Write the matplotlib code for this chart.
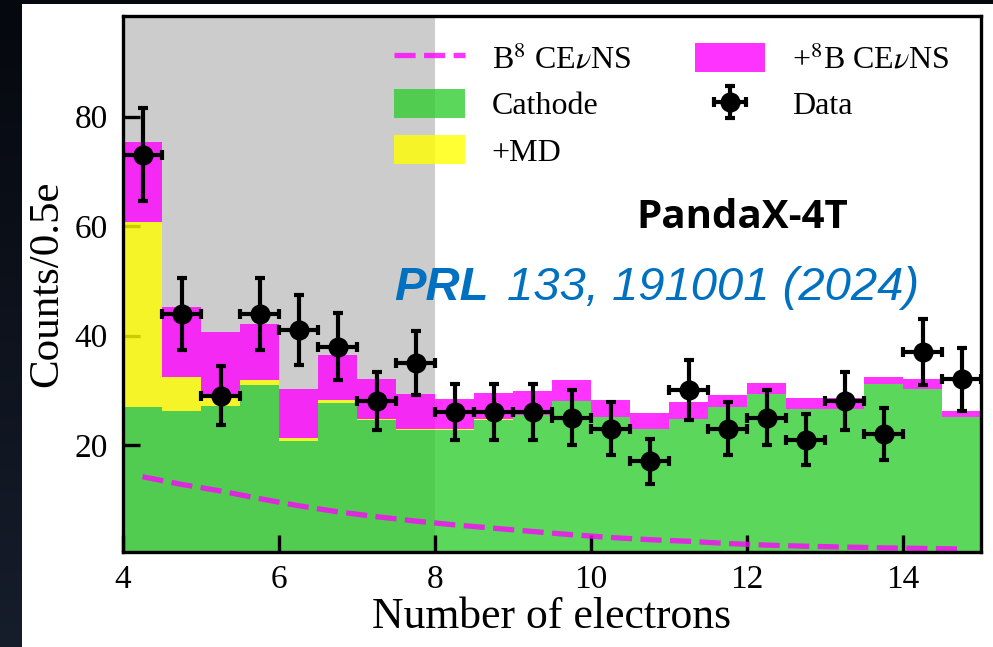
import numpy as np
import matplotlib
matplotlib.use("Agg")
import matplotlib.pyplot as plt
from matplotlib.patches import Patch, Rectangle
from matplotlib.lines import Line2D

# ---- data -------------------------------------------------------------
bin_edges = np.arange(4.0, 15.5, 0.5)
bin_centers = 0.5 * (bin_edges[:-1] + bin_edges[1:])

cathode = [27.0, 26.3, 27.2, 30.9, 20.8, 27.7, 24.5, 22.7, 22.7, 24.5, 25.4,
           28.1, 25.1, 23.0, 24.8, 26.9, 29.4, 26.6, 26.6, 31.2, 30.3, 25.1]
md = [33.7, 6.2, 1.9, 0.9, 0.5, 0.5, 0.3, 0.3, 0.3, 0.3, 0.0,
      0.0, 0.0, 0.0, 0.0, 0.0, 0.0, 0.0, 0.0, 0.0, 0.0, 0.0]
b8_binned = [14.7, 12.7, 11.6, 10.4, 9.0, 8.3, 7.3, 6.4, 5.4, 4.7, 4.5,
             3.8, 3.2, 2.9, 3.0, 2.2, 1.9, 1.9, 1.9, 1.3, 1.8, 1.1]
b8_curve = [14.2, 12.8, 11.6, 10.2, 8.9, 7.8, 6.9, 6.1, 5.4, 4.8, 4.2,
            3.6, 3.1, 2.7, 2.4, 2.0, 1.7, 1.5, 1.35, 1.2, 1.1, 1.0]

data_counts = [73, 44, 29, 44, 41, 38, 28, 35, 26, 26, 26,
               25, 23, 17, 30, 23, 25, 21, 28, 22, 37, 32]
data_err = [8.5, 6.6, 5.4, 6.6, 6.4, 6.2, 5.3, 5.9, 5.1, 5.1, 5.1,
            5.0, 4.8, 4.1, 5.5, 4.8, 5.0, 4.6, 5.3, 4.7, 6.1, 5.7]
half_bin = 0.25

x_ticks = [4, 6, 8, 10, 12, 14]
y_ticks = [20, 40, 60, 80]

# ---- style ------------------------------------------------------------
plt.rcParams["font.family"] = ["Liberation Serif", "DejaVu Serif"]
plt.rcParams["mathtext.fontset"] = "stix"

GREEN = "limegreen"
YELLOW = "yellow"
MAGENTA = "magenta"
ALPHA = 0.8

fig = plt.figure(figsize=(9.93, 6.47), dpi=100)

# dark backdrop with a white panel on top
bg = fig.add_axes([0, 0, 1, 1], zorder=-10)
grad = np.linspace(0, 1, 256).reshape(-1, 1)
bg.imshow(grad, aspect="auto", extent=[0, 1, 0, 1], origin="upper",
          cmap=matplotlib.colors.LinearSegmentedColormap.from_list(
              "bgc", ["#05080e", "#161d2b"]))
bg.add_patch(Rectangle((22 / 993, 0), 1, 1 - 4 / 647, transform=bg.transAxes,
                       facecolor="white", edgecolor="none"))
bg.set_xlim(0, 1)
bg.set_ylim(0, 1)
bg.axis("off")

ax = fig.add_axes([123 / 993, 1 - 551.7 / 647, (981 - 123) / 993, (551.7 - 16) / 647])
ax.set_facecolor("none")

ax.axvspan(4, 8, color="#cccccc", zorder=0, lw=0)

cath = np.asarray(cathode)
lvl_md = cath + np.asarray(md)
lvl_b8 = lvl_md + np.asarray(b8_binned)

ax.stairs(cath, bin_edges, baseline=0, fill=True, color=GREEN, alpha=ALPHA,
          lw=1.0, zorder=1)
ax.stairs(lvl_md, bin_edges, baseline=cath, fill=True, color=YELLOW, alpha=ALPHA,
          lw=1.5, zorder=2)
ax.stairs(lvl_b8, bin_edges, baseline=lvl_md, fill=True, color=MAGENTA, alpha=ALPHA,
          lw=1.8, zorder=3)

dash_line, = ax.plot(bin_centers, b8_curve, color=MAGENTA, alpha=ALPHA, lw=3.8,
                     ls="--", dashes=(4, 1.6), zorder=4)

eb = ax.errorbar(bin_centers, data_counts, yerr=data_err, xerr=half_bin, fmt="o",
                 color="black", ms=13.5, elinewidth=3.0, capsize=3.5, capthick=3.0,
                 zorder=6)

ax.set_xlim(4, 15)
ax.set_ylim(0.5, 98.4)
ax.set_xticks(x_ticks)
ax.set_yticks(y_ticks)
ax.tick_params(direction="in", length=12, width=2.4, labelsize=24, pad=9)
ax.tick_params(axis="y", pad=11)
for sp in ax.spines.values():
    sp.set_linewidth(2.4)
    sp.set_zorder(10)

ax.set_xlabel("Number of electrons", fontsize=31.5, labelpad=2)
ax.set_ylabel("Counts/0.5e", fontsize=31, labelpad=6)

handles = [
    Line2D([], [], color=MAGENTA, alpha=ALPHA, lw=3.8, ls="--", dashes=(4, 1.6)),
    Patch(facecolor=GREEN, alpha=ALPHA, edgecolor="none"),
    Patch(facecolor=YELLOW, alpha=ALPHA, edgecolor="none"),
    Patch(facecolor=MAGENTA, alpha=ALPHA, edgecolor="none"),
    eb,
]
labels = ["B$^8$ CE$\\nu$NS", "Cathode", "+MD", "+$^8$B CE$\\nu$NS", "Data"]
ax.legend(handles, labels, ncol=2, loc="upper right", bbox_to_anchor=(0.997, 1.004),
          frameon=False, fontsize=23, handlelength=2.2, handleheight=1.05,
          handletextpad=0.85, columnspacing=2.0, labelspacing=0.42)

ax.text(11.94, 61.5, "PandaX-4T", fontsize=29, fontweight="bold",
        family=["Open Sans", "DejaVu Sans"], ha="center", va="center", color="black")
ax.text(7.474, 46.5, "PRL", fontsize=34, fontweight="bold", style="italic",
        family=["Liberation Sans", "DejaVu Sans"], ha="left", va="baseline",
        color="#0070c0")
ax.text(8.92, 46.5, "133, 191001 (2024)", fontsize=34, style="italic",
        family=["Liberation Sans", "DejaVu Sans"], ha="left", va="baseline",
        color="#0070c0")

fig.savefig("out.png", dpi=100)
